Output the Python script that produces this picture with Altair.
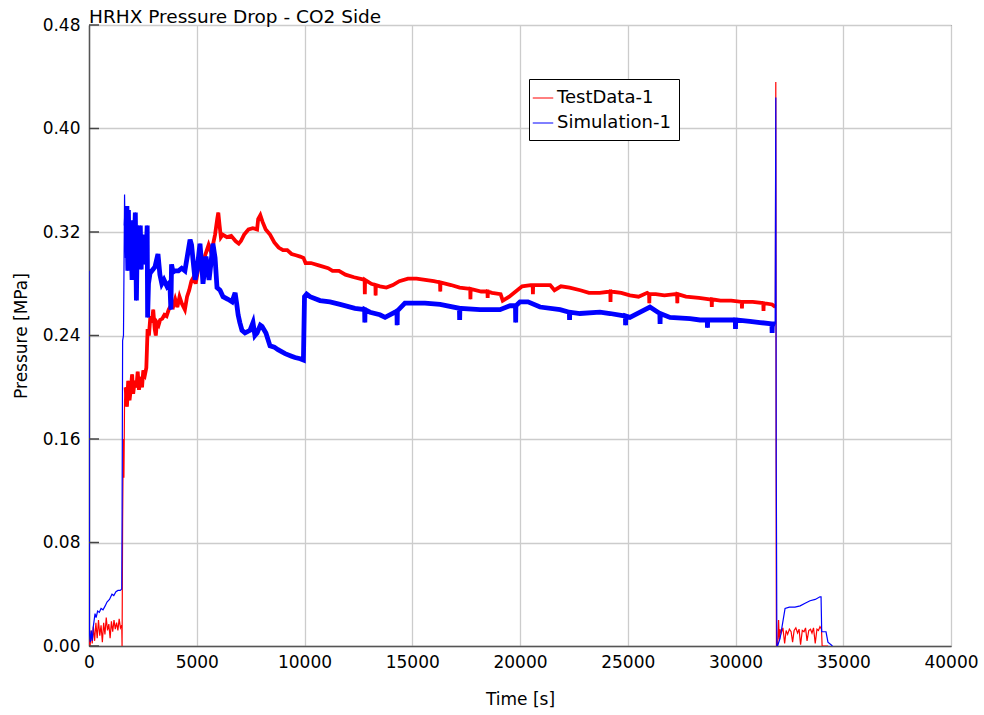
import altair as alt
import pandas as pd

# ---------------- data ----------------
red_t = [0, 50, 100, 150, 200, 260, 320, 380, 440, 500, 560, 620, 680, 740, 800, 860, 920, 980,
         1040, 1100, 1160, 1220, 1280, 1340, 1400, 1460, 1520, 1535, 1560, 1590, 1620, 1650, 1700,
         1760, 1820, 1880, 1950, 2000, 2050, 2120, 2200, 2260, 2320, 2400, 2460, 2520, 2600, 2660,
         2690, 2720, 2780, 2850, 2920, 2980, 3050, 3100, 3150, 3230, 3300, 3400, 3500, 3600, 3700,
         3800, 3900, 4000, 4100, 4200, 4300, 4450, 4550, 4650, 4750, 4850, 4950, 5050, 5150, 5250,
         5350, 5450, 5550, 5650, 5750, 5850, 5950, 6000, 6060, 6120, 6200, 6400, 6600, 6800, 6950,
         7050, 7200, 7400, 7600, 7800, 7850, 7950, 8050, 8200, 8400, 8600, 8800, 9000, 9200, 9400,
         9600, 9800, 9950, 10050, 10300, 10700, 11100, 11300, 11600, 11900, 12300, 12790, 12800,
         12810, 13100, 13290, 13300, 13310, 13500, 13800, 14100, 14400, 14800, 15200, 15600, 16000,
         16290, 16300, 16310, 16800, 17200, 17690, 17700, 17710, 18200, 18490, 18500, 18510, 18700,
         19100, 19200, 19500, 19800, 20100, 20500, 20590, 20600, 20610, 21000, 21400, 21600, 21900,
         22300, 22800, 23200, 23700, 24190, 24200, 24210, 24700, 25100, 25500, 25900, 25990, 26000,
         26010, 26300, 26700, 27200, 27290, 27300, 27310, 27700, 28300, 28800, 28890, 28900, 28910,
         29300, 29800, 30290, 30300, 30310, 30800, 31290, 31300, 31310, 31700, 31850, 31870, 31890,
         31900, 31950, 32000, 32030, 32060, 32120, 32200, 32280, 32350, 32420, 32500, 32580, 32650,
         32720, 32800, 32880, 32950, 33020, 33100, 33180, 33250, 33320, 33400, 33480, 33550, 33620,
         33700, 33780, 33850, 33920, 33990, 34020, 34300]
red_p = [0.005, 0.0, 0.012, 0.002, 0.015, 0.004, 0.018, 0.006, 0.020, 0.008, 0.016, 0.003, 0.018,
         0.009, 0.022, 0.012, 0.017, 0.006, 0.019, 0.011, 0.020, 0.013, 0.018, 0.012, 0.021, 0.014,
         0.016, 0.0, 0.095, 0.160, 0.130, 0.190, 0.200, 0.185, 0.205, 0.190, 0.200, 0.210, 0.195,
         0.205, 0.200, 0.212, 0.198, 0.208, 0.200, 0.213, 0.210, 0.215, 0.230, 0.245, 0.240, 0.255,
         0.250, 0.260, 0.245, 0.240, 0.250, 0.248, 0.252, 0.253, 0.256, 0.255, 0.260, 0.263, 0.262,
         0.268, 0.262, 0.270, 0.265, 0.260, 0.270, 0.275, 0.282, 0.285, 0.280, 0.290, 0.295, 0.290,
         0.300, 0.305, 0.310, 0.305, 0.310, 0.318, 0.330, 0.335, 0.325, 0.316, 0.318, 0.316, 0.317,
         0.313, 0.311, 0.313, 0.318, 0.322, 0.323, 0.322, 0.330, 0.333, 0.328, 0.322, 0.318, 0.312,
         0.308, 0.306, 0.306, 0.303, 0.302, 0.301, 0.300, 0.296, 0.296, 0.294, 0.292, 0.290, 0.290,
         0.287, 0.285, 0.283, 0.272, 0.283, 0.280, 0.279, 0.271, 0.279, 0.278, 0.277, 0.279, 0.282,
         0.284, 0.284, 0.283, 0.282, 0.281, 0.274, 0.281, 0.279, 0.277, 0.276, 0.268, 0.276, 0.274,
         0.274, 0.269, 0.274, 0.273, 0.272, 0.267, 0.270, 0.274, 0.278, 0.279, 0.279, 0.272, 0.279,
         0.279, 0.279, 0.275, 0.278, 0.277, 0.275, 0.273, 0.273, 0.274, 0.266, 0.274, 0.273, 0.271,
         0.270, 0.273, 0.272, 0.265, 0.272, 0.272, 0.271, 0.272, 0.272, 0.265, 0.272, 0.270, 0.269,
         0.268, 0.268, 0.262, 0.268, 0.267, 0.267, 0.266, 0.261, 0.266, 0.266, 0.265, 0.259, 0.265,
         0.264, 0.262, 0.436, 0.060, 0.0, 0.0, 0.020, 0.005, 0.013, 0.010, 0.014, 0.002, 0.012,
         0.009, 0.013, 0.011, 0.003, 0.012, 0.014, 0.010, 0.013, 0.001, 0.012, 0.011, 0.014, 0.004,
         0.012, 0.013, 0.010, 0.014, 0.002, 0.013, 0.012, 0.015, 0.013, 0.0, 0.0]

blue_t = [0, 20, 60, 100, 150, 200, 280, 330, 400, 480, 560, 650, 750, 835, 950, 1067, 1150, 1250,
          1346, 1450, 1520, 1535, 1560, 1600, 1620, 1650, 1690, 1720, 1760, 1800, 1830, 1860, 1900,
          1950, 2000, 2050, 2100, 2150, 2200, 2240, 2290, 2340, 2380, 2420, 2460, 2510, 2560, 2610,
          2660, 2700, 2720, 2760, 2830, 2920, 3060, 3130, 3200, 3290, 3380, 3480, 3620, 3750, 3800,
          3830, 3900, 4000, 4150, 4300, 4450, 4550, 4690, 4760, 4830, 4920, 5010, 5150, 5250, 5290,
          5430, 5570, 5660, 5750, 5850, 5940, 6080, 6220, 6450, 6640, 6780, 6850, 6920, 7000, 7100,
          7240, 7470, 7610, 7700, 7800, 7950, 8030, 8210, 8400, 8600, 8770, 9100, 9400, 9560, 9800,
          9950, 10000, 10100, 10255, 10720, 11180, 11650, 12340, 12790, 12800, 12810, 13040, 13500,
          13740, 14200, 14290, 14300, 14310, 14660, 15130, 15590, 16290, 17190, 17200, 17210, 18140,
          19070, 19540, 19790, 19800, 19810, 20000, 20370, 20930, 21860, 22290, 22300, 22310, 22780,
          23710, 24180, 24890, 24900, 24910, 25100, 25800, 26030, 26490, 26500, 26510, 26960, 27890,
          28350, 28690, 28700, 28710, 29280, 29750, 29990, 30000, 30010, 30670, 31140, 31690, 31700,
          31710, 31840, 31870, 31890, 31900, 31920, 31950, 32070, 32160, 32300, 32500, 32760, 33000,
          33230, 33460, 33700, 33920, 33970, 34000, 34200, 34290, 34500]
blue_p = [0.290, 0.010, 0.003, 0.012, 0.004, 0.015, 0.025, 0.022, 0.027, 0.026, 0.029, 0.028, 0.031,
          0.034, 0.036, 0.040, 0.039, 0.042, 0.043, 0.043, 0.044, 0.100, 0.236, 0.240, 0.283, 0.349,
          0.300, 0.325, 0.340, 0.290, 0.337, 0.298, 0.322, 0.310, 0.283, 0.329, 0.310, 0.335, 0.267,
          0.314, 0.325, 0.300, 0.325, 0.291, 0.318, 0.300, 0.310, 0.295, 0.305, 0.325, 0.254, 0.280,
          0.288, 0.290, 0.293, 0.298, 0.303, 0.287, 0.280, 0.283, 0.278, 0.281, 0.260, 0.295, 0.289,
          0.290, 0.290, 0.292, 0.290, 0.300, 0.314, 0.310, 0.298, 0.283, 0.290, 0.311, 0.290, 0.280,
          0.301, 0.283, 0.296, 0.311, 0.300, 0.277, 0.275, 0.270, 0.268, 0.266, 0.273, 0.265, 0.256,
          0.250, 0.244, 0.242, 0.244, 0.250, 0.240, 0.242, 0.248, 0.247, 0.242, 0.232, 0.231, 0.229,
          0.226, 0.224, 0.223, 0.222, 0.221, 0.270, 0.272, 0.270, 0.267, 0.266, 0.264, 0.261, 0.260,
          0.250, 0.260, 0.258, 0.256, 0.254, 0.258, 0.259, 0.248, 0.259, 0.265, 0.265, 0.265, 0.264,
          0.261, 0.252, 0.261, 0.260, 0.260, 0.263, 0.263, 0.250, 0.263, 0.266, 0.266, 0.262, 0.260,
          0.258, 0.252, 0.258, 0.257, 0.258, 0.257, 0.255, 0.248, 0.255, 0.254, 0.260, 0.262, 0.257,
          0.249, 0.257, 0.254, 0.253, 0.252, 0.252, 0.246, 0.252, 0.252, 0.252, 0.252, 0.245, 0.252,
          0.251, 0.250, 0.249, 0.242, 0.249, 0.249, 0.424, 0.141, 0.100, 0.0, 0.0, 0.006, 0.015,
          0.029, 0.030, 0.030, 0.031, 0.033, 0.035, 0.036, 0.038, 0.038, 0.011, 0.011, 0.003, 0.0]

series_names = ["TestData-1", "Simulation-1"]
series_colors = ["#ff0000", "#0000ff"]
x_ticks = [0, 5000, 10000, 15000, 20000, 25000, 30000, 35000, 40000]
y_ticks = [0.00, 0.08, 0.16, 0.24, 0.32, 0.40, 0.48]
chart_title = "HRHX Pressure Drop - CO2 Side"

# ---------------- build table ----------------
rows = []
for i, (t, p) in enumerate(zip(red_t, red_p)):
    rows.append({"t": t, "p": p, "series": series_names[0], "i": i})
for i, (t, p) in enumerate(zip(blue_t, blue_p)):
    rows.append({"t": t, "p": p, "series": series_names[1], "i": i})
df = pd.DataFrame(rows)

FONT = "DejaVu Sans"

color = alt.Color(
    "series:N",
    scale=alt.Scale(domain=series_names, range=series_colors),
    legend=alt.Legend(
        title=None, orient="none", legendX=440, legendY=54,
        strokeColor="black", fillColor="white", padding=8, cornerRadius=0,
        labelFont=FONT, labelFontSize=18, labelColor="black",
        symbolType="stroke", symbolSize=420, symbolStrokeWidth=1,
        symbolOffset=-5, rowPadding=5, labelOffset=3, labelLimit=300,
    ),
)

axis_common = dict(labelFont=FONT, labelFontSize=17, labelColor="black",
                   titleFont=FONT, titleFontSize=17, titleFontWeight="normal",
                   titleColor="black", ticks=False, labelFlush=False)

x = alt.X("t:Q", scale=alt.Scale(domain=[0, 40000], nice=False, zero=False),
          axis=alt.Axis(values=x_ticks, format="d", title="Time [s]",
                        labelPadding=8, titlePadding=21, **axis_common))
y = alt.Y("p:Q", scale=alt.Scale(domain=[0, 0.48], nice=False),
          axis=alt.Axis(values=y_ticks, format=".2f", title="Pressure [MPa]",
                        labelPadding=9, titlePadding=12, **axis_common))

base = alt.Chart(df)

red_thin = base.transform_filter(alt.datum.series == series_names[0]).mark_line(
    strokeWidth=1.2, clip=True).encode(x=x, y=y, color=color, order="i:Q")
red_thick = base.transform_filter(
    (alt.datum.series == series_names[0]) & (alt.datum.t >= 1700) & (alt.datum.t <= 31850)
).mark_line(strokeWidth=3.8, clip=True).encode(x=x, y=y, color=color, order="i:Q")
blue_thin = base.transform_filter(alt.datum.series == series_names[1]).mark_line(
    strokeWidth=1.2, clip=True).encode(x=x, y=y, color=color, order="i:Q")
blue_thick = base.transform_filter(
    (alt.datum.series == series_names[1]) & (alt.datum.t >= 1700) & (alt.datum.t <= 31840)
).mark_line(strokeWidth=4.8, clip=True).encode(x=x, y=y, color=color, order="i:Q")

tick_df = pd.DataFrame({"v": y_ticks})
inner_ticks = alt.Chart(tick_df).mark_rule(color="#444444", strokeWidth=1.5).encode(
    x=alt.value(0), x2=alt.value(10), y=alt.Y("v:Q"))

title_df = pd.DataFrame({"label": [chart_title]})
title_mark = alt.Chart(title_df).mark_text(
    align="left", baseline="alphabetic", font=FONT, fontSize=18.5, color="black"
).encode(x=alt.value(0), y=alt.value(-2), text="label:N")

chart = alt.layer(red_thin, red_thick, blue_thin, blue_thick, inner_ticks, title_mark).properties(
    width=862, height=621,
    background="white",
    autosize=alt.AutoSizeParams(type="none"),
    padding={"left": 89, "top": 25, "right": 33, "bottom": 69},
).configure_view(stroke="#222222", strokeWidth=1).configure_axis(
    gridColor="#cccccc", gridWidth=1.3, domainColor="#555555", domainWidth=1.5,
)

chart.save("out.html", embed_options={"renderer": "svg", "actions": False})
